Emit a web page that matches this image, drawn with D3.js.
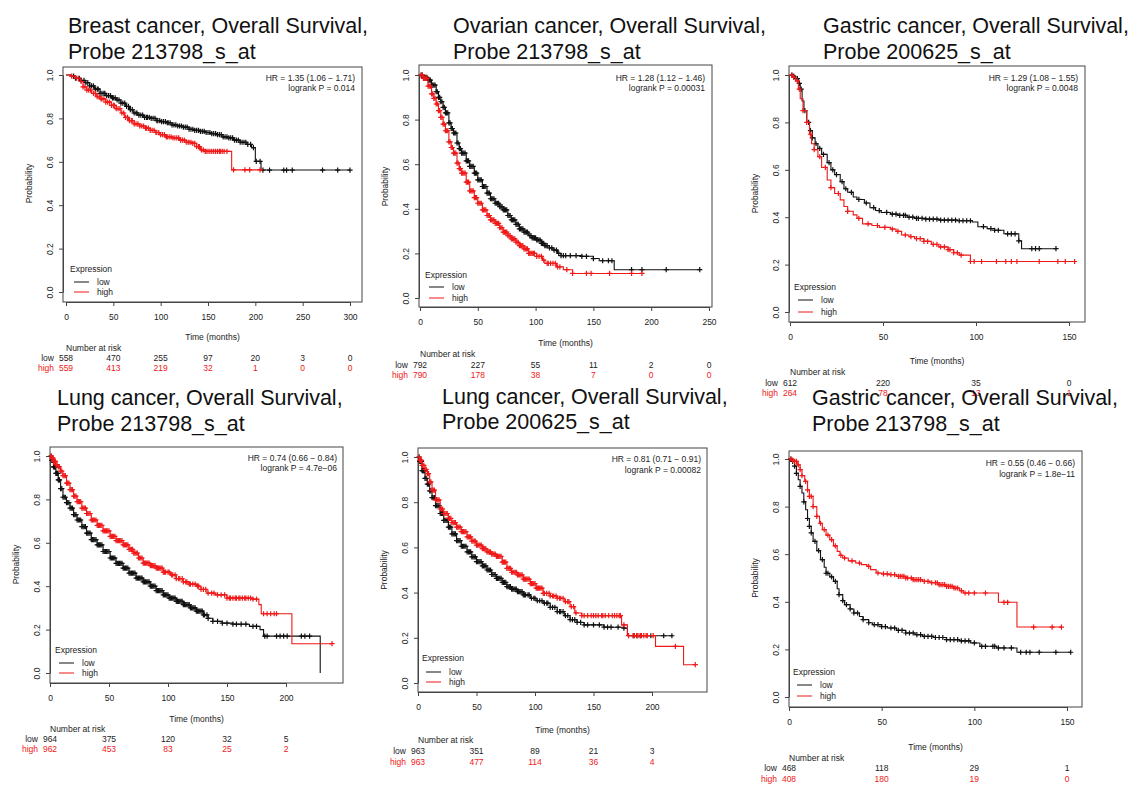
<!DOCTYPE html>
<html>
<head>
<meta charset="utf-8">
<script src="https://cdn.jsdelivr.net/npm/d3@7"></script>
<style>
body { margin: 0; background: #fff; }
svg text { font-family: "Liberation Sans", Arial, Helvetica, sans-serif; }
</style>
</head>
<body>
<svg id="fig" width="1143" height="803"></svg>
<script>
// ---- data (time in months, survival probability) ----

var probTicks = [0, 0.2, 0.4, 0.6, 0.8, 1.0];
var groupNames = ['low', 'high'];

// 1. Breast cancer, 213798_s_at
var breastTitle = ['Breast cancer, Overall Survival,', 'Probe 213798_s_at'];
var breastStats = ['HR = 1.35 (1.06 \u2212 1.71)', 'logrank P = 0.014'];
var breastTicks = [0, 50, 100, 150, 200, 250, 300];
var breastRiskLow = [558, 470, 255, 97, 20, 3, 0];
var breastRiskHigh = [559, 413, 219, 32, 1, 0, 0];
var breastLow = [[0,1],[5,0.995],[10,0.985],[15,0.975],[20,0.965],[25,0.95],[30,0.935],[36,0.915],[42,0.905],[48,0.895],[53,0.885],[58,0.87],[63,0.855],[67,0.84],[71,0.825],[76,0.815],[82,0.805],[89,0.8],[95,0.79],[100,0.785],[106,0.78],[112,0.77],[118,0.765],[124,0.76],[130,0.75],[136,0.745],[141,0.74],[147,0.735],[153,0.73],[159,0.725],[165,0.715],[171,0.71],[177,0.7],[184,0.69],[191,0.68],[196,0.665],[200,0.602],[206,0.562],[300,0.562]];
var breastHigh = [[0,1],[5,0.995],[10,0.985],[15,0.97],[18,0.945],[22,0.93],[27,0.915],[32,0.9],[36,0.89],[42,0.875],[48,0.86],[53,0.845],[58,0.825],[62,0.805],[66,0.79],[72,0.775],[78,0.765],[84,0.755],[89,0.745],[94,0.735],[99,0.725],[105,0.715],[112,0.71],[120,0.7],[127,0.69],[134,0.685],[138,0.67],[142,0.655],[147,0.648],[175,0.563],[207,0.563]];
var breastLowCens = [8,14,19,23,27,31,34,38,41,45,49,52,56,60,64,68,72,75,79,83,86,90,94,97,101,105,108,112,116,120,124,128,132,136,140,144,148,152,156,160,164,168,172,176,180,184,188,192,195,198,201,205,208,215,230,233,239,271,287,300];
var breastLowDense = [10,16,21,25,29,33,36,40,43,47,50,54,58,62,66,70,74,77,81,85,88,92,96,99,103,107,110,114,118,122,126,130,134,138,142,146,150,154,158,162,166,170,174,178,182,186,190];
var breastHighCens = [6,11,16,20,24,29,33,37,40,44,48,51,55,59,63,67,70,74,78,82,85,89,93,96,100,104,107,111,115,119,123,127,130,134,138,141,145,148,152,156,160,163,167,170,177,189,194,205];
var breastHighDense = [13,18,22,26,31,35,38,42,46,50,53,57,61,65,69,72,76,80,84,87,91,95,98,102,106,109,113,117,121,125,129,132,136,140,143,147,150,154,158,162,165];

// 2. Ovarian cancer, 213798_s_at
var ovarianTitle = ['Ovarian cancer, Overall Survival,', 'Probe 213798_s_at'];
var ovarianStats = ['HR = 1.28 (1.12 \u2212 1.46)', 'logrank P = 0.00031'];
var ovarianTicks = [0, 50, 100, 150, 200, 250];
var ovarianRiskLow = [792, 227, 55, 11, 2, 0];
var ovarianRiskHigh = [790, 178, 38, 7, 0, 0];
var ovarianLow = [[0,1],[3,0.99],[7,0.977],[10,0.955],[14,0.925],[16,0.9],[18,0.88],[20,0.855],[22,0.83],[25,0.785],[27,0.76],[29,0.74],[32,0.695],[34,0.67],[36,0.65],[40,0.615],[43,0.59],[47,0.56],[50,0.53],[54,0.5],[58,0.47],[61,0.445],[65,0.425],[69,0.41],[72,0.395],[76,0.37],[79,0.35],[83,0.33],[86,0.31],[90,0.295],[94,0.28],[97,0.27],[101,0.26],[105,0.245],[108,0.235],[112,0.225],[115,0.215],[119,0.2],[122,0.19],[140,0.187],[150,0.177],[155,0.167],[168,0.127],[242,0.127]];
var ovarianHigh = [[0,1],[3,0.985],[7,0.95],[10,0.915],[12,0.895],[14,0.87],[16,0.84],[18,0.81],[20,0.78],[22,0.75],[25,0.7],[27,0.675],[29,0.65],[32,0.605],[34,0.58],[36,0.56],[40,0.52],[43,0.48],[47,0.45],[50,0.425],[54,0.395],[58,0.37],[61,0.35],[65,0.335],[69,0.315],[72,0.295],[76,0.28],[79,0.265],[83,0.25],[86,0.235],[90,0.22],[94,0.2],[101,0.187],[106,0.17],[108,0.155],[118,0.14],[124,0.127],[132,0.11],[193,0.11]];
var ovarianLowCens = [2,4,6,8,9,11,13,15,17,19,21,23,25,27,29,31,33,35,37,39,41,44,46,49,52,55,58,61,64,67,70,73,76,79,82,85,88,91,95,98,101,104,107,110,114,118,122,126,130,135,140,144,150,158,163,166,183,192,213,242];
var ovarianLowDense = [1,3,5,7,10,12,14,16,18,20,22,24,26,28,30,32,34,36,38,40,42,43,45,47,48,50,51,53,54,56,57,59,60,62,63,65,66,68,69,71,72,74,75,77,78,80,81,83,84,86,87,89,90,92,93,96,97,99,100,102,103,105,106,108,109,112,116,120,124];
var ovarianHighCens = [2,3,5,7,8,10,12,14,16,18,20,22,24,26,28,30,32,34,36,38,40,43,45,48,51,54,57,60,63,66,69,72,75,78,82,85,89,93,97,101,105,110,113,117,121,127,132,144,148,164,183,192];
var ovarianHighDense = [1,4,6,9,11,13,15,17,19,21,23,25,27,29,31,33,35,37,39,41,42,44,46,47,49,50,52,53,55,56,58,59,61,62,64,65,67,68,70,71,73,74,76,77,79,80,81,83,84,86,87,88,90,91,92,94,95,96,98,99,103,107,111,115,119];

// 3. Gastric cancer, 200625_s_at
var gastricATitle = ['Gastric cancer, Overall Survival,', 'Probe 200625_s_at'];
var gastricAStats = ['HR = 1.29 (1.08 \u2212 1.55)', 'logrank P = 0.0048'];
var gastricATicks = [0, 50, 100, 150];
var gastricARiskLow = [612, 220, 35, 0];
var gastricARiskHigh = [264, 78, 13, 1];
var gastricALow = [[0,1],[1.5,0.995],[3,0.985],[4.5,0.965],[5.5,0.94],[6.5,0.89],[7.5,0.85],[9,0.8],[10.5,0.765],[12,0.735],[13.5,0.71],[15,0.69],[17,0.665],[20,0.63],[22,0.6],[24,0.58],[27,0.55],[29,0.52],[31,0.505],[34,0.485],[36,0.475],[40,0.46],[43,0.44],[46,0.428],[49,0.42],[54,0.413],[58,0.408],[63,0.4],[67,0.395],[73,0.392],[80,0.388],[90,0.385],[98,0.38],[101,0.36],[106,0.352],[110,0.345],[115,0.33],[123,0.3],[124.5,0.267],[143,0.267]];
var gastricAHigh = [[0,1],[1.5,0.99],[3,0.975],[4.5,0.94],[5.5,0.9],[7,0.85],[9,0.8],[10.5,0.75],[11.6,0.71],[13,0.685],[15,0.655],[17,0.61],[20,0.557],[22,0.525],[24,0.5],[27,0.473],[29,0.445],[31,0.425],[34,0.41],[36,0.395],[39,0.372],[44,0.365],[48,0.357],[54,0.35],[57,0.34],[60,0.325],[64,0.318],[67,0.31],[72,0.298],[76,0.285],[80,0.275],[85,0.263],[88,0.25],[91,0.24],[97,0.213],[153,0.213]];
var gastricALowCens = [1,2,3,4,5,6,8,10,11,12,14,16,18,21,23,25,28,30,33,37,41,45,48,52,55,57,59,61,62,64,66,68,69,71,73,75,77,79,81,83,85,87,89,91,93,95,97,104,108,110,112,117,119,121,123,130,132,134,143];
var gastricAHighCens = [1,2,4,5,7,9,11,13,16,19,22,26,31,37,42,47,51,55,58,62,65,68,70,72,74,77,79,81,83,85,86,88,90,92,97,99,103,111,116,119,122,134,144,148,153];

// 4. Lung cancer, 213798_s_at
var lungATitle = ['Lung cancer, Overall Survival,', 'Probe 213798_s_at'];
var lungAStats = ['HR = 0.74 (0.66 \u2212 0.84)', 'logrank P = 4.7e\u221206'];
var lungATicks = [0, 50, 100, 150, 200];
var lungARiskLow = [964, 375, 120, 32, 5];
var lungARiskHigh = [962, 453, 83, 25, 2];
var lungALow = [[0,1],[1.5,0.98],[3,0.95],[5,0.92],[7,0.89],[9,0.85],[11,0.81],[14,0.785],[17,0.76],[20,0.73],[23,0.705],[27,0.675],[31,0.645],[35,0.615],[40,0.59],[45,0.56],[51,0.53],[56,0.505],[62,0.483],[67,0.46],[73,0.437],[79,0.42],[85,0.4],[90,0.38],[96,0.36],[101,0.345],[107,0.33],[113,0.315],[119,0.3],[124,0.285],[130,0.268],[134,0.252],[138,0.238],[146,0.23],[155,0.225],[169,0.215],[178,0.2],[181,0.17],[229,0]];
var lungAHigh = [[0,1],[1.5,0.99],[3,0.975],[5,0.96],[7,0.95],[9,0.93],[11,0.91],[14,0.875],[17,0.845],[20,0.815],[23,0.79],[27,0.76],[31,0.735],[35,0.705],[40,0.68],[45,0.655],[51,0.63],[56,0.61],[62,0.59],[67,0.57],[71,0.552],[75,0.53],[79,0.506],[85,0.495],[90,0.483],[96,0.465],[102,0.452],[107,0.435],[113,0.42],[118,0.41],[124,0.4],[128,0.385],[133,0.368],[140,0.36],[150,0.345],[172,0.34],[177,0.315],[179,0.273],[205,0.135],[239,0.135]];
var lungALowCens = [1,2,3,4,5,6,7,8,10,12,13,15,16,18,19,21,22,24,25,27,29,30,32,34,36,38,40,42,44,46,48,50,52,54,57,59,61,64,66,69,72,74,77,80,83,86,89,92,95,98,101,104,107,110,113,116,119,122,125,128,131,134,138,142,146,150,155,158,162,166,172,175,182,184,192,195,198,201,213,216,220];
var lungALowDense = [1.5,2.5,3.5,4.5,5.5,6.5,7.5,9,11,14,17,20,23,26,28,31,33,35,37,39,41,43,45,47,49,51,53,55,56,58,60,62,63,65,67,68,70,71,73,75,76,78,79,81,82,84,85,87,88,90,91,93,94,96,97,99,100,102,103,105,106,108,109,111,112,114,115,117,118,120,121,123,124,126,127,129,130,133];
var lungAHighCens = [1,2,3,4,5,6,8,9,10,12,14,16,18,20,22,24,26,28,30,32,34,36,38,40,43,45,48,50,53,56,59,62,65,68,71,74,77,80,83,86,88,90,93,96,100,103,106,109,112,115,118,121,125,128,132,137,142,150,153,155,158,161,165,168,172,175,181,184,187,190,192,239];
var lungAHighDense = [1.5,2.5,3.5,4.5,7,11,13,15,17,19,21,23,25,27,29,31,33,35,37,39,41,42,44,46,47,49,51,52,54,55,57,58,60,61,63,64,66,67,69,70,72,73,75,76,78,79,81,82,84,85,87,89,91,92,94,95,97,98,101,104,107,110,113,116,119,123,126,130,134,139,145,148,152,157,160,163,166,170];

// 5. Lung cancer, 200625_s_at
var lungBTitle = ['Lung cancer, Overall Survival,', 'Probe 200625_s_at'];
var lungBStats = ['HR = 0.81 (0.71 \u2212 0.91)', 'logrank P = 0.00082'];
var lungBTicks = [0, 50, 100, 150, 200];
var lungBRiskLow = [963, 351, 89, 21, 3];
var lungBRiskHigh = [963, 477, 114, 36, 4];
var lungBLow = [[0,1],[1.5,0.98],[3.4,0.94],[6,0.905],[8,0.88],[10,0.85],[12,0.82],[15,0.785],[19,0.75],[22,0.72],[26,0.69],[29,0.66],[33,0.63],[37,0.605],[42,0.58],[46,0.558],[50,0.537],[55,0.518],[59,0.5],[63,0.48],[67,0.463],[72,0.445],[76,0.426],[80,0.415],[85,0.404],[90,0.39],[96,0.375],[101,0.364],[107,0.353],[113,0.335],[119,0.316],[125,0.298],[130,0.28],[136,0.268],[142,0.257],[159,0.247],[176,0.243],[179,0.209],[218,0.209]];
var lungBHigh = [[0,1],[1.5,0.985],[3.4,0.963],[6,0.945],[8,0.926],[10,0.89],[12,0.853],[15,0.81],[19,0.77],[22,0.75],[26,0.728],[29,0.71],[33,0.69],[37,0.67],[42,0.647],[46,0.628],[50,0.61],[55,0.595],[59,0.58],[63,0.57],[67,0.56],[72,0.535],[76,0.507],[80,0.49],[85,0.478],[90,0.46],[96,0.44],[101,0.42],[107,0.397],[113,0.385],[119,0.375],[125,0.36],[130,0.338],[134,0.31],[140,0.298],[174,0.257],[179,0.21],[203,0.162],[227,0.081],[237,0.081]];
var lungBLowCens = [1,2,3,4,5,6,7,9,10,11,13,14,16,17,19,20,22,24,26,28,30,32,34,36,38,40,42,44,47,49,52,54,57,60,62,65,68,71,74,77,80,83,86,89,92,95,99,102,106,110,113,117,121,124,128,132,136,142,150,159,162,165,171,176,184,187,190,199,210,217];
var lungBLowDense = [1.5,2.5,3.5,4.5,5.5,8,12,15,18,21,23,25,27,29,31,33,35,37,39,41,43,45,46,48,50,51,53,55,56,58,59,61,63,64,66,67,69,70,72,73,75,76,78,79,81,82,84,85,87,88,90,91,94,97,100,104,108,111,115,119,122,126,130,134,139,145,155];
var lungBHighCens = [1,2,3,4,5,6,8,9,11,12,14,15,17,19,21,23,25,27,29,31,33,35,37,39,41,43,46,48,51,53,56,58,61,63,66,69,72,75,78,81,84,87,90,93,96,99,102,105,108,112,115,118,121,124,128,131,133,142,145,148,152,154,157,160,163,166,170,173,176,184,187,190,193,196,201,220,237];
var lungBHighDense = [1.5,2.5,3.5,7,10,13,16,18,20,22,24,26,28,30,32,34,36,38,40,42,44,45,47,49,50,52,54,55,57,59,60,62,64,65,67,68,70,71,73,74,76,77,79,80,82,83,85,86,88,89,91,92,94,95,97,98,100,101,103,104,106,107,110,113,116,119,122,126,129,135,140,150,158,168,172,180,185,188,191,195];

// 6. Gastric cancer, 213798_s_at
var gastricBTitle = ['Gastric cancer, Overall Survival,', 'Probe 213798_s_at'];
var gastricBStats = ['HR = 0.55 (0.46 \u2212 0.66)', 'logrank P = 1.8e\u221211'];
var gastricBTicks = [0, 50, 100, 150];
var gastricBRiskLow = [468, 118, 29, 1];
var gastricBRiskHigh = [408, 180, 19, 0];
var gastricBLow = [[0,1],[1.5,0.99],[3,0.97],[4,0.94],[5,0.913],[6,0.885],[7,0.857],[8,0.82],[9,0.787],[10,0.75],[11,0.717],[12,0.69],[13,0.654],[15,0.615],[17,0.577],[19,0.545],[20,0.52],[22,0.505],[24,0.486],[26,0.455],[27,0.43],[29,0.405],[30,0.388],[33,0.37],[35,0.353],[38,0.338],[40,0.325],[43,0.312],[45,0.304],[50,0.296],[53,0.29],[58,0.28],[63,0.269],[68,0.262],[72,0.255],[78,0.25],[85,0.241],[92,0.236],[98,0.227],[103,0.213],[112,0.206],[123,0.188],[152,0.188]];
var gastricBHigh = [[0,1],[1.5,0.995],[3,0.99],[4.5,0.975],[6,0.955],[7,0.93],[8.5,0.906],[10,0.87],[11,0.843],[13,0.8],[15,0.759],[16.5,0.73],[18,0.703],[20,0.68],[22,0.661],[24,0.635],[26,0.612],[27.5,0.595],[29,0.584],[32,0.572],[36,0.563],[39,0.556],[42,0.549],[44,0.535],[47,0.521],[50,0.517],[54,0.514],[58,0.507],[63,0.5],[67,0.493],[72,0.486],[76,0.48],[81,0.472],[85,0.465],[89,0.458],[92,0.447],[94,0.437],[113,0.398],[123,0.294],[147,0.294]];
var gastricBLowCens = [1,2,3,4,6,8,10,11,12,14,16,18,20,21,23,25,27,29,31,33,35,37,40,43,46,48,50,52,55,57,59,61,63,65,67,69,71,73,75,77,79,81,83,85,87,89,91,93,95,97,100,104,106,110,111,113,116,120,125,128,130,135,144,152];
var gastricBHighCens = [1,2,3,4,5,6,7,9,10,11,12,13,15,17,19,21,23,25,28,30,34,38,43,48,51,53,55,57,59,60,61,62,63,64,66,67,68,69,70,71,73,75,77,79,80,81,82,83,84,85,86,87,88,89,90,91,93,95,97,100,106,116,118,132,142,147];

// ---- layout (pixels) ----
var layouts = [
	{left: 63,  right: 362,  top: 67,  bottom: 302, x0: 66,  x1: 350,  yTop: 75,  yBot: 292, titleX: 68,  titleY: [33, 59],   hrX: 355,  hrY: [78, 88],   legX: 70,  legY: [269, 282, 292], timeY: 337, narY: [348, 358, 368]},
	{left: 419, right: 712,  top: 65,  bottom: 307, x0: 420, x1: 709,  yTop: 75,  yBot: 298, titleX: 453, titleY: [33, 59],   hrX: 705,  hrY: [78, 88],   legX: 425, legY: [275, 287, 298], timeY: 343, narY: [354, 365, 375]},
	{left: 789, right: 1085, top: 66,  bottom: 322, x0: 790, x1: 1069, yTop: 75,  yBot: 312, titleX: 823, titleY: [33, 59],   hrX: 1078, hrY: [78, 88],   legX: 794, legY: [287, 300, 312], timeY: 361, narY: [372, 383, 393]},
	{left: 50,  right: 343,  top: 447, bottom: 683, x0: 50,  x1: 286,  yTop: 456, yBot: 673, titleX: 57,  titleY: [405, 431], hrX: 337,  hrY: [458, 468], legX: 55,  legY: [650, 663, 673], timeY: 719, narY: [729, 739, 749]},
	{left: 418, right: 707,  top: 448, bottom: 692, x0: 418, x1: 652,  yTop: 457, yBot: 683, titleX: 442, titleY: [404, 429], hrX: 701,  hrY: [459, 470], legX: 422, legY: [658, 672, 682], timeY: 730, narY: [740, 751, 762]},
	{left: 789, right: 1082, top: 451, bottom: 707, x0: 789, x1: 1067, yTop: 459, yBot: 697, titleX: 812, titleY: [405, 431], hrX: 1075, hrY: [463, 474], legX: 793, legY: [672, 685, 696], timeY: 747, narY: [758, 768, 779]}
];

var panels = [
	{title: breastTitle,   stats: breastStats,   ticks: breastTicks,   risk: [breastRiskLow, breastRiskHigh],     curves: [breastLow, breastHigh],     cens: [breastLowCens.concat(breastLowDense), breastHighCens.concat(breastHighDense)]},
	{title: ovarianTitle,  stats: ovarianStats,  ticks: ovarianTicks,  risk: [ovarianRiskLow, ovarianRiskHigh],   curves: [ovarianLow, ovarianHigh],   cens: [ovarianLowCens.concat(ovarianLowDense), ovarianHighCens.concat(ovarianHighDense)]},
	{title: gastricATitle, stats: gastricAStats, ticks: gastricATicks, risk: [gastricARiskLow, gastricARiskHigh], curves: [gastricALow, gastricAHigh], cens: [gastricALowCens, gastricAHighCens]},
	{title: lungATitle,    stats: lungAStats,    ticks: lungATicks,    risk: [lungARiskLow, lungARiskHigh],       curves: [lungALow, lungAHigh],       cens: [lungALowCens.concat(lungALowDense), lungAHighCens.concat(lungAHighDense)]},
	{title: lungBTitle,    stats: lungBStats,    ticks: lungBTicks,    risk: [lungBRiskLow, lungBRiskHigh],       curves: [lungBLow, lungBHigh],       cens: [lungBLowCens.concat(lungBLowDense), lungBHighCens.concat(lungBHighDense)]},
	{title: gastricBTitle, stats: gastricBStats, ticks: gastricBTicks, risk: [gastricBRiskLow, gastricBRiskHigh], curves: [gastricBLow, gastricBHigh], cens: [gastricBLowCens, gastricBHighCens]}
];

var colors = ['#111', '#f01818'],
	smallFont = '8.5px',
	ink = '#222';

var svg = d3.select('#fig');

// survival value of a step curve at time t
function survAt(curve, t){
	var s = curve[0][1];
	for (var i = 0; i < curve.length; i++) {
		if (curve[i][0] <= t) s = curve[i][1];
	}
	return s;
}

function drawPanel(p, L){
	var g = svg.append('g');

	var x = d3.scaleLinear()
		.domain([0, p.ticks[p.ticks.length - 1]])
		.range([L.x0, L.x1]);
	var y = d3.scaleLinear()
		.domain([0, 1])
		.range([L.yBot, L.yTop]);

	/* ----------- title ----------- */
	g.selectAll('text.title').data(p.title).enter()
		.append('text')
		.attr('class', 'title')
		.attr('x', L.titleX)
		.attr('y', function(d, i){ return L.titleY[i]; })
		.style('font-size', '21.5px')
		.attr('fill', '#111')
		.text(function(d){ return d; });

	/* ----------- box ----------- */
	g.append('rect')
		.attr('x', L.left)
		.attr('y', L.top)
		.attr('width', L.right - L.left)
		.attr('height', L.bottom - L.top)
		.attr('fill', 'none')
		.attr('stroke', '#444')
		.attr('stroke-width', 1);

	/* ----------- axes ----------- */
	var xa = g.append('g')
		.attr('transform', 'translate(0,' + L.bottom + ')')
		.call(d3.axisBottom(x).tickValues(p.ticks).tickSize(4).tickSizeOuter(0).tickPadding(8));
	var ya = g.append('g')
		.attr('transform', 'translate(' + L.left + ',0)')
		.call(d3.axisLeft(y).tickValues(probTicks).tickFormat(d3.format('.1f')).tickSize(4).tickSizeOuter(0));

	[xa, ya].forEach(function(a){
		a.attr('font-family', null).attr('font-size', null);
		a.selectAll('path, line').attr('stroke', '#444');
		a.selectAll('text').style('font-size', smallFont).attr('fill', ink);
	});
	ya.selectAll('.tick text')
		.attr('x', null)
		.attr('dy', '0.35em')
		.attr('text-anchor', 'middle')
		.attr('transform', 'translate(-13,0) rotate(-90)');

	g.append('text')
		.attr('transform', 'translate(' + (L.left - 34) + ',' + ((L.yTop + L.yBot) / 2) + ') rotate(-90)')
		.attr('text-anchor', 'middle')
		.attr('dy', '0.35em')
		.style('font-size', smallFont)
		.attr('fill', ink)
		.text('Probability');

	g.append('text')
		.attr('x', (L.left + L.right) / 2)
		.attr('y', L.timeY)
		.attr('text-anchor', 'middle')
		.attr('dy', '0.35em')
		.style('font-size', smallFont)
		.attr('fill', ink)
		.text('Time (months)');

	/* ----------- curves ----------- */
	var line = d3.line()
		.x(function(d){ return x(d[0]); })
		.y(function(d){ return y(d[1]); })
		.curve(d3.curveStepAfter);

	p.curves.forEach(function(curve, k){
		g.append('path')
			.attr('d', line(curve))
			.attr('fill', 'none')
			.attr('stroke', colors[k])
			.attr('stroke-width', 1.1);

		g.selectAll('path.cens' + k).data(p.cens[k]).enter()
			.append('path')
			.attr('class', 'cens' + k)
			.attr('d', 'M-2.6,0H2.6M0,-2.6V2.6')
			.attr('transform', function(t){ return 'translate(' + x(t) + ',' + y(survAt(curve, t)) + ')'; })
			.attr('stroke', colors[k])
			.attr('stroke-width', 1.2);
	});

	/* ----------- HR / logrank ----------- */
	g.selectAll('text.hr').data(p.stats).enter()
		.append('text')
		.attr('x', L.hrX)
		.attr('y', function(d, i){ return L.hrY[i]; })
		.attr('dy', '0.35em')
		.attr('text-anchor', 'end')
		.style('font-size', smallFont)
		.attr('fill', ink)
		.text(function(d){ return d; });

	/* ----------- legend ----------- */
	g.append('text')
		.attr('x', L.legX)
		.attr('y', L.legY[0])
		.attr('dy', '0.35em')
		.style('font-size', smallFont)
		.attr('fill', ink)
		.text('Expression');
	groupNames.forEach(function(name, k){
		g.append('line')
			.attr('x1', L.legX + 4).attr('x2', L.legX + 19)
			.attr('y1', L.legY[k + 1]).attr('y2', L.legY[k + 1])
			.attr('stroke', colors[k]);
		g.append('text')
			.attr('x', L.legX + 27)
			.attr('y', L.legY[k + 1])
			.attr('dy', '0.35em')
			.style('font-size', smallFont)
			.attr('fill', ink)
			.text(name);
	});

	/* ----------- number at risk ----------- */
	g.append('text')
		.attr('x', L.x0)
		.attr('y', L.narY[0])
		.attr('dy', '0.35em')
		.style('font-size', smallFont)
		.attr('fill', ink)
		.text('Number at risk');
	groupNames.forEach(function(name, k){
		var c = k ? colors[1] : ink;
		g.append('text')
			.attr('x', L.x0 - 12)
			.attr('y', L.narY[k + 1])
			.attr('dy', '0.35em')
			.attr('text-anchor', 'end')
			.style('font-size', smallFont)
			.attr('fill', c)
			.text(name);
		g.selectAll('text.risk' + k).data(p.risk[k]).enter()
			.append('text')
			.attr('class', 'risk' + k)
			.attr('x', function(d, i){ return x(p.ticks[i]); })
			.attr('y', L.narY[k + 1])
			.attr('dy', '0.35em')
			.attr('text-anchor', 'middle')
			.style('font-size', smallFont)
			.attr('fill', c)
			.text(function(d){ return d; });
	});
}

panels.forEach(function(p, i){ drawPanel(p, layouts[i]); });
</script>
</body>
</html>
